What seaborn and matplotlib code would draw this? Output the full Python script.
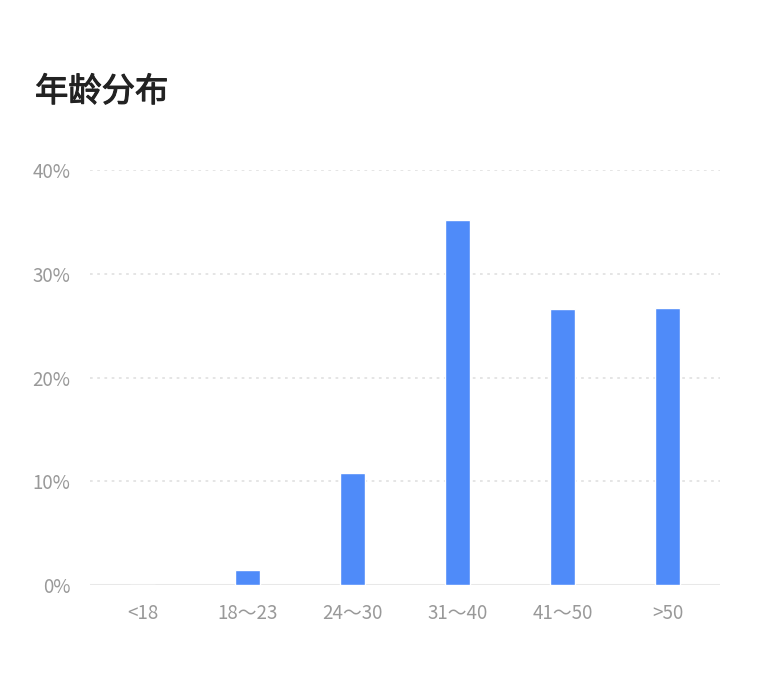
import matplotlib
matplotlib.use("Agg")
import matplotlib.pyplot as plt
import matplotlib.patheffects as pe
import seaborn as sns
import pandas as pd

# 年龄分布数据 (百分比)
age_groups = ["<18", "18～23", "24～30", "31～40", "41～50", ">50"]
shares = [0.0, 1.45, 10.8, 35.2, 26.6, 26.7]
y_ticks = [0, 10, 20, 30, 40]
y_tick_labels = ["0%", "10%", "20%", "30%", "40%"]

df = pd.DataFrame({"age": age_groups, "share": shares})

sns.set_style("white")
plt.rcParams["font.family"] = ["Noto Sans CJK SC", "DejaVu Sans"]

fig = plt.figure(figsize=(7.59, 6.9), dpi=100)
ax = fig.add_axes([90 / 759, 105 / 690, 630 / 759, 415 / 690])

sns.barplot(data=df, x="age", y="share", color="#4F8BF9", saturation=1,
            width=0.23, ax=ax, zorder=3)

ax.set_xlim(-0.5, 5.5)
ax.set_ylim(0, 40)
ax.set_yticks(y_ticks)
ax.set_yticklabels(y_tick_labels)
ax.set_xlabel("")
ax.set_ylabel("")

# 点状网格 + 底部实线
for v in y_ticks[1:]:
    ax.axhline(v, color="#e3e3e3", lw=1.3, ls=(0, (1.5, 2.5)), zorder=1)
ax.axhline(0, color="#e8e8e8", lw=1.5, zorder=2)

for s in ax.spines.values():
    s.set_visible(False)
ax.tick_params(axis="both", length=0, labelsize=13.5, colors="#999999")
ax.tick_params(axis="y", pad=14)
ax.tick_params(axis="x", pad=13)

# 标题：常规字重加一点描边，接近 medium
fig.text(35 / 759, 1 - 92 / 690, "年龄分布", fontsize=24, color="#222222",
         va="center", ha="left",
         path_effects=[pe.withStroke(linewidth=0.8, foreground="#222222")])

plt.savefig("out.png", dpi=100)
plt.close()
